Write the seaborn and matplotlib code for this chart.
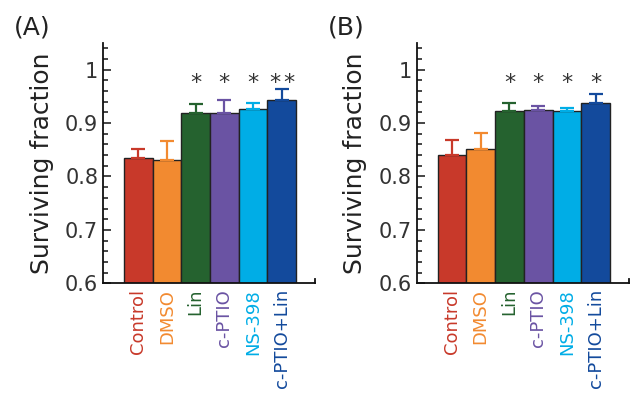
import seaborn as sns
import pandas as pd
import matplotlib.pyplot as plt
from matplotlib.ticker import MultipleLocator

treatments = ["Control", "DMSO", "Lin", "c-PTIO", "NS-398", "c-PTIO+Lin"]
colors = ["#C8392A", "#F28A30", "#25622F", "#6A53A3", "#00ADE6", "#134A9C"]

mean_a = [0.835, 0.831, 0.919, 0.918, 0.926, 0.943]
err_a = [0.017, 0.036, 0.016, 0.026, 0.011, 0.021]
stars_a = [0, 0, 1, 1, 1, 2]

mean_b = [0.840, 0.851, 0.922, 0.924, 0.922, 0.938]
err_b = [0.029, 0.030, 0.015, 0.008, 0.007, 0.017]
stars_b = [0, 0, 1, 1, 1, 1]

star_y = 0.975

sns.set_style("white")
plt.rcParams['font.family'] = ['DejaVu Sans']

fig = plt.figure(figsize=(6.3, 3.97), dpi=100)
ax_a = fig.add_axes([0.1635, 0.2864, 0.3365, 0.6053])
ax_b = fig.add_axes([0.6614, 0.2864, 0.3370, 0.6053])


def draw_panel(ax, means, errs, stars, label):
    df = pd.DataFrame({"treatment": treatments, "value": means})
    sns.barplot(data=df, x="treatment", y="value", hue="treatment",
                palette=colors, width=1.0, edgecolor="#222222", saturation=1,
                linewidth=1.0, ax=ax, legend=False, errorbar=None)
    for i, (m, e) in enumerate(zip(means, errs)):
        ax.errorbar(i, m, yerr=[[0], [e]], color=colors[i], capsize=5,
                    elinewidth=1.6, capthick=1.6, fmt="none")
        if stars[i] == 1:
            ax.text(i, star_y, "*", ha="center", va="center",
                    fontsize=16, color="#333333")
        elif stars[i] == 2:
            for dx in (-0.25, 0.25):
                ax.text(i + dx, star_y, "*", ha="center", va="center",
                        fontsize=16, color="#333333")
    ax.set_ylim(0.6, 1.05)
    ax.set_xlim(-1.23, 6.16)
    ax.yaxis.set_major_locator(MultipleLocator(0.1))
    ax.yaxis.set_minor_locator(MultipleLocator(0.02))
    ax.set_yticks([0.6, 0.7, 0.8, 0.9, 1.0])
    ax.set_yticklabels(["0.6", "0.7", "0.8", "0.9", "1"])
    ax.tick_params(axis="y", which="major", direction="in", length=6,
                   width=1.2, labelsize=15, labelcolor="#333333", left=True)
    ax.tick_params(axis="y", which="minor", direction="in", length=3.5,
                   width=1.2, left=True)
    ax.tick_params(axis="x", length=0, pad=4)
    ax.set_xticks(range(len(treatments)))
    ax.set_xticklabels(treatments, rotation=90, fontsize=13)
    for t, c in zip(ax.get_xticklabels(), colors):
        t.set_color(c)
    ax.set_xlabel("")
    ax.set_ylabel("Surviving fraction", fontsize=18, color="#222222", labelpad=8)
    ax.spines["top"].set_visible(False)
    ax.spines["right"].set_bounds(0.6, 0.608)
    for s in ["left", "bottom", "right"]:
        ax.spines[s].set_color("#111111")
        ax.spines[s].set_linewidth(1.3)
    ax.text(-0.42, 1.065, label, transform=ax.transAxes, fontsize=18,
            color="#222222", va="center", ha="left")


draw_panel(ax_a, mean_a, err_a, stars_a, "(A)")
draw_panel(ax_b, mean_b, err_b, stars_b, "(B)")

fig.savefig("out.png", dpi=100)
